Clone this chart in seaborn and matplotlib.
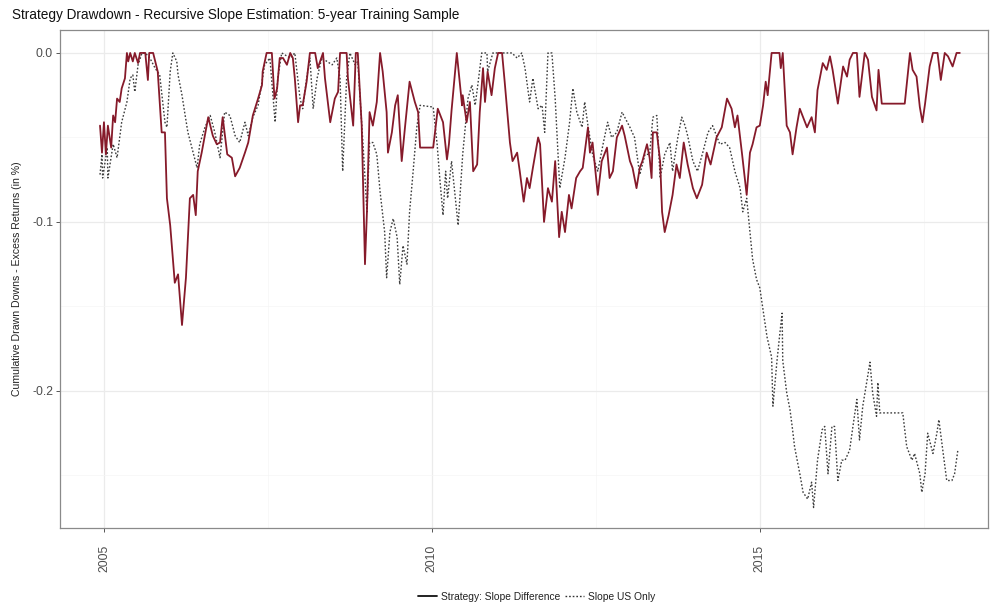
import matplotlib
matplotlib.use("Agg")
import matplotlib.pyplot as plt
from matplotlib.lines import Line2D
from matplotlib.ticker import FixedLocator
import seaborn as sns
import pandas as pd

# Strategy: Slope Difference -- drawdown path (decimal year, drawdown)
strategy_dates = [
    2004.94, 2004.97, 2005.00, 2005.03, 2005.06, 2005.11, 2005.14, 2005.17, 2005.20, 2005.24,
    2005.27, 2005.32, 2005.35, 2005.37, 2005.40, 2005.44, 2005.47, 2005.52, 2005.55, 2005.63,
    2005.67, 2005.69, 2005.75, 2005.82, 2005.88, 2005.93, 2005.96, 2006.01, 2006.08, 2006.13,
    2006.19, 2006.25, 2006.31, 2006.36, 2006.40, 2006.43, 2006.49, 2006.59, 2006.66, 2006.72,
    2006.77, 2006.81, 2006.88, 2006.95, 2007.00, 2007.07, 2007.15, 2007.20, 2007.27, 2007.35,
    2007.41, 2007.42, 2007.48, 2007.56, 2007.60, 2007.64, 2007.68, 2007.73, 2007.79, 2007.84,
    2007.88, 2007.91, 2007.96, 2007.99, 2008.03, 2008.09, 2008.14, 2008.22, 2008.26, 2008.34,
    2008.37, 2008.45, 2008.52, 2008.57, 2008.60, 2008.70, 2008.72, 2008.80, 2008.84, 2008.87,
    2008.93, 2008.98, 2009.01, 2009.05, 2009.10, 2009.16, 2009.21, 2009.25, 2009.31, 2009.33,
    2009.39, 2009.44, 2009.48, 2009.54, 2009.59, 2009.66, 2009.74, 2009.79, 2009.82, 2010.02,
    2010.09, 2010.17, 2010.23, 2010.26, 2010.30, 2010.38, 2010.46, 2010.47, 2010.53, 2010.58,
    2010.63, 2010.69, 2010.73, 2010.78, 2010.81, 2010.85, 2010.91, 2010.96, 2011.01, 2011.07,
    2011.11, 2011.19, 2011.23, 2011.30, 2011.34, 2011.40, 2011.45, 2011.49, 2011.54, 2011.62,
    2011.65, 2011.71, 2011.77, 2011.83, 2011.88, 2011.94, 2011.98, 2012.03, 2012.09, 2012.13,
    2012.20, 2012.26, 2012.30, 2012.38, 2012.41, 2012.45, 2012.53, 2012.59, 2012.67, 2012.71,
    2012.76, 2012.82, 2012.90, 2012.94, 2013.02, 2013.06, 2013.12, 2013.17, 2013.21, 2013.28,
    2013.32, 2013.35, 2013.37, 2013.43, 2013.48, 2013.51, 2013.55, 2013.61, 2013.67, 2013.73,
    2013.78, 2013.84, 2013.90, 2013.98, 2014.04, 2014.12, 2014.19, 2014.25, 2014.34, 2014.42,
    2014.50, 2014.57, 2014.62, 2014.66, 2014.73, 2014.80, 2014.85, 2014.89, 2014.95, 2015.00,
    2015.05, 2015.09, 2015.12, 2015.18, 2015.30, 2015.32, 2015.35, 2015.41, 2015.46, 2015.50,
    2015.56, 2015.61, 2015.72, 2015.79, 2015.84, 2015.88, 2015.96, 2016.02, 2016.07, 2016.11,
    2016.19, 2016.27, 2016.33, 2016.37, 2016.42, 2016.48, 2016.52, 2016.60, 2016.65, 2016.71,
    2016.78, 2016.81, 2016.86, 2017.21, 2017.29, 2017.33, 2017.39, 2017.44, 2017.48, 2017.52,
    2017.59, 2017.64, 2017.71, 2017.76, 2017.82, 2017.87, 2017.94, 2018.00, 2018.05,
]
strategy_dd = [
    -0.043, -0.059, -0.041, -0.060, -0.043, -0.056, -0.037, -0.041, -0.027, -0.029,
    -0.021, -0.015, 0.000, -0.005, 0.000, -0.005, 0.000, -0.006, 0.000, 0.000,
    -0.016, 0.000, 0.000, -0.011, -0.047, -0.047, -0.086, -0.102, -0.136, -0.131,
    -0.161, -0.133, -0.086, -0.084, -0.096, -0.070, -0.059, -0.038, -0.049, -0.054,
    -0.053, -0.038, -0.060, -0.062, -0.073, -0.068, -0.059, -0.053, -0.037, -0.027,
    -0.019, -0.011, 0.000, 0.000, -0.027, -0.021, -0.003, -0.003, -0.007, 0.000,
    -0.003, -0.015, -0.041, -0.031, -0.031, -0.017, 0.000, 0.000, -0.009, 0.000,
    -0.015, -0.041, -0.027, -0.023, 0.000, 0.000, -0.015, -0.043, 0.000, 0.000,
    -0.043, -0.125, -0.094, -0.035, -0.043, -0.029, 0.000, -0.011, -0.035, -0.059,
    -0.047, -0.031, -0.025, -0.064, -0.044, -0.017, -0.029, -0.035, -0.056, -0.056,
    -0.033, -0.041, -0.063, -0.054, -0.034, 0.000, -0.031, -0.025, -0.041, -0.029,
    -0.070, -0.066, -0.035, -0.009, -0.029, -0.011, -0.025, -0.009, 0.000, 0.000,
    -0.017, -0.053, -0.064, -0.059, -0.070, -0.088, -0.074, -0.080, -0.068, -0.050,
    -0.054, -0.100, -0.080, -0.088, -0.064, -0.109, -0.094, -0.106, -0.084, -0.092,
    -0.074, -0.070, -0.068, -0.044, -0.059, -0.053, -0.084, -0.064, -0.056, -0.074,
    -0.070, -0.050, -0.043, -0.049, -0.064, -0.068, -0.080, -0.068, -0.064, -0.054,
    -0.062, -0.074, -0.047, -0.047, -0.064, -0.094, -0.106, -0.096, -0.084, -0.066,
    -0.074, -0.053, -0.066, -0.080, -0.086, -0.078, -0.059, -0.066, -0.050, -0.044,
    -0.027, -0.033, -0.044, -0.037, -0.060, -0.084, -0.059, -0.054, -0.044, -0.043,
    -0.031, -0.017, -0.025, 0.000, 0.000, -0.009, 0.000, -0.043, -0.047, -0.060,
    -0.044, -0.033, -0.044, -0.038, -0.047, -0.022, -0.006, -0.010, -0.002, -0.010,
    -0.030, -0.008, -0.014, -0.004, 0.000, 0.000, -0.026, 0.000, -0.004, -0.026,
    -0.034, -0.010, -0.030, -0.030, 0.000, -0.010, -0.014, -0.032, -0.041, -0.030,
    -0.008, 0.000, 0.000, -0.016, 0.000, -0.002, -0.008, 0.000, 0.000,
]

# Slope US Only -- drawdown path (decimal year, drawdown)
us_only_dates = [
    2004.94, 2004.97, 2004.98, 2005.05, 2005.06, 2005.14, 2005.20, 2005.27, 2005.35, 2005.40,
    2005.44, 2005.47, 2005.52, 2005.58, 2005.63, 2005.70, 2005.78, 2005.85, 2005.93, 2005.96,
    2006.01, 2006.05, 2006.11, 2006.13, 2006.19, 2006.23, 2006.28, 2006.36, 2006.42, 2006.46,
    2006.54, 2006.62, 2006.69, 2006.77, 2006.84, 2006.92, 2007.00, 2007.07, 2007.15, 2007.20,
    2007.27, 2007.35, 2007.41, 2007.45, 2007.53, 2007.61, 2007.65, 2007.71, 2007.84, 2007.91,
    2007.99, 2008.03, 2008.09, 2008.14, 2008.19, 2008.25, 2008.32, 2008.40, 2008.48, 2008.55,
    2008.60, 2008.64, 2008.70, 2008.75, 2008.83, 2008.87, 2008.95, 2009.01, 2009.05, 2009.10,
    2009.16, 2009.21, 2009.28, 2009.31, 2009.36, 2009.41, 2009.47, 2009.51, 2009.56, 2009.62,
    2009.66, 2009.71, 2009.77, 2009.82, 2010.02, 2010.08, 2010.12, 2010.17, 2010.21, 2010.24,
    2010.30, 2010.40, 2010.47, 2010.55, 2010.61, 2010.66, 2010.70, 2010.76, 2010.84, 2010.85,
    2010.93, 2011.22, 2011.30, 2011.37, 2011.42, 2011.49, 2011.54, 2011.62, 2011.68, 2011.72,
    2011.77, 2011.83, 2011.88, 2011.95, 2012.03, 2012.10, 2012.15, 2012.21, 2012.29, 2012.33,
    2012.38, 2012.45, 2012.53, 2012.61, 2012.68, 2012.74, 2012.82, 2012.90, 2013.02, 2013.09,
    2013.17, 2013.25, 2013.32, 2013.37, 2013.43, 2013.48, 2013.55, 2013.63, 2013.67, 2013.75,
    2013.81, 2013.86, 2013.90, 2013.98, 2014.05, 2014.13, 2014.21, 2014.28, 2014.34, 2014.39,
    2014.47, 2014.54, 2014.62, 2014.70, 2014.74, 2014.80, 2014.85, 2014.89, 2014.95, 2015.00,
    2015.05, 2015.11, 2015.18, 2015.20, 2015.26, 2015.30, 2015.34, 2015.35, 2015.41, 2015.46,
    2015.50, 2015.53, 2015.61, 2015.66, 2015.73, 2015.79, 2015.82, 2015.88, 2015.95, 2015.99,
    2016.04, 2016.10, 2016.14, 2016.19, 2016.25, 2016.30, 2016.37, 2016.42, 2016.48, 2016.52,
    2016.57, 2016.63, 2016.68, 2016.72, 2016.78, 2016.80, 2016.83, 2017.18, 2017.24, 2017.32,
    2017.36, 2017.44, 2017.47, 2017.52, 2017.56, 2017.64, 2017.70, 2017.73, 2017.79, 2017.85,
    2017.93, 2017.97, 2018.02,
]
us_only_dd = [
    -0.072, -0.060, -0.074, -0.056, -0.074, -0.054, -0.062, -0.041, -0.029, -0.015,
    -0.013, -0.023, -0.007, 0.000, 0.000, -0.003, -0.009, -0.013, -0.041, -0.044,
    -0.011, 0.000, -0.005, -0.013, -0.025, -0.035, -0.047, -0.059, -0.068, -0.054,
    -0.044, -0.037, -0.047, -0.062, -0.035, -0.037, -0.049, -0.053, -0.041, -0.049,
    -0.038, -0.031, -0.017, -0.007, -0.003, -0.041, -0.015, 0.000, -0.003, 0.000,
    -0.027, -0.033, -0.015, -0.003, -0.033, -0.015, -0.003, -0.005, -0.007, -0.003,
    -0.015, -0.070, -0.015, 0.000, -0.007, -0.005, -0.054, -0.094, -0.053, -0.053,
    -0.060, -0.082, -0.106, -0.133, -0.106, -0.098, -0.109, -0.137, -0.114, -0.125,
    -0.094, -0.072, -0.044, -0.031, -0.032, -0.054, -0.074, -0.096, -0.070, -0.086,
    -0.064, -0.102, -0.060, -0.027, -0.019, -0.031, -0.019, 0.000, 0.000, -0.011,
    0.000, 0.000, -0.003, 0.000, -0.009, -0.029, -0.015, -0.033, -0.031, -0.047,
    0.000, 0.000, -0.027, -0.080, -0.062, -0.041, -0.021, -0.035, -0.044, -0.029,
    -0.043, -0.060, -0.070, -0.054, -0.041, -0.050, -0.047, -0.035, -0.044, -0.050,
    -0.072, -0.060, -0.060, -0.038, -0.037, -0.074, -0.060, -0.053, -0.070, -0.050,
    -0.038, -0.043, -0.049, -0.064, -0.070, -0.059, -0.047, -0.043, -0.049, -0.054,
    -0.053, -0.056, -0.070, -0.080, -0.094, -0.086, -0.106, -0.122, -0.134, -0.139,
    -0.152, -0.168, -0.180, -0.209, -0.183, -0.168, -0.154, -0.182, -0.201, -0.211,
    -0.223, -0.233, -0.249, -0.260, -0.264, -0.254, -0.269, -0.241, -0.223, -0.221,
    -0.249, -0.221, -0.221, -0.253, -0.241, -0.241, -0.235, -0.221, -0.205, -0.229,
    -0.209, -0.195, -0.183, -0.201, -0.215, -0.195, -0.213, -0.213, -0.233, -0.241,
    -0.237, -0.249, -0.260, -0.249, -0.225, -0.237, -0.225, -0.217, -0.235, -0.253,
    -0.253, -0.249, -0.235,
]

series_labels = ["Strategy: Slope Difference", "Slope US Only"]
title_text = "Strategy Drawdown - Recursive Slope Estimation: 5-year Training Sample"
y_label = "Cumulative Drawn Downs - Excess Returns (in %)"
x_ticks = [2005, 2010, 2015]
y_ticks = [0.0, -0.1, -0.2]

strategy_df = pd.DataFrame({"date": strategy_dates, "drawdown": strategy_dd})
us_only_df = pd.DataFrame({"date": us_only_dates, "drawdown": us_only_dd})

sns.set_theme(style="white")
plt.rcParams["font.family"] = ["Liberation Sans", "DejaVu Sans"]
plt.rcParams["axes.unicode_minus"] = False

fig = plt.figure(figsize=(9.92, 6.08), dpi=100)
ax = fig.add_axes([0.0605, 0.1316, 0.9355, 0.8191])

# light grid, ggplot theme_bw style
ax.set_axisbelow(True)
ax.xaxis.set_minor_locator(FixedLocator([2007.5, 2012.5, 2017.5]))
ax.yaxis.set_minor_locator(FixedLocator([-0.05, -0.15, -0.25]))
ax.grid(True, which="major", color="#ebebeb", linewidth=0.9)
ax.grid(True, which="minor", color="#f5f5f5", linewidth=0.5)

sns.lineplot(data=us_only_df, x="date", y="drawdown", ax=ax, color="#3c3c3c",
             linewidth=1.0, linestyle=(0, (1.2, 1.4)), sort=False, estimator=None)
sns.lineplot(data=strategy_df, x="date", y="drawdown", ax=ax, color="#861a2a",
             linewidth=1.3, sort=False, estimator=None)

ax.set_xlim(2004.33, 2018.48)
ax.set_ylim(-0.2811, 0.0136)
ax.set_xticks(x_ticks)
ax.set_xticklabels([str(t) for t in x_ticks], rotation=90, fontsize=8.8, color="#4d4d4d")
ax.set_yticks(y_ticks)
ax.set_yticklabels([f"{t:.1f}" for t in y_ticks], fontsize=8.8, color="#4d4d4d")
ax.tick_params(axis="both", which="major", length=3, width=0.7, color="#555555",
               direction="out", bottom=True, left=True)
ax.tick_params(axis="x", which="major", pad=9)
ax.tick_params(axis="y", which="major", pad=2)
ax.tick_params(axis="both", which="minor", length=0)
ax.set_xlabel("")
ax.set_ylabel(y_label, fontsize=7.6, color="#222222", labelpad=7)

for side in ax.spines.values():
    side.set_color("#8a8a8a")
    side.set_linewidth(0.9)

fig.text(0.012, 0.976, title_text, fontsize=9.8, color="#111111", ha="left", va="center")

handles = [
    Line2D([], [], color="#111111", linewidth=1.3),
    Line2D([], [], color="#333333", linewidth=1.0, linestyle=(0, (1.2, 1.4))),
]
fig.legend(handles, series_labels, loc="center", bbox_to_anchor=(0.541, 0.018),
           ncol=2, frameon=False, fontsize=7.4, handlelength=1.8, handletextpad=0.4,
           columnspacing=0.5, labelcolor="#222222")

fig.savefig("out.png", dpi=100)
